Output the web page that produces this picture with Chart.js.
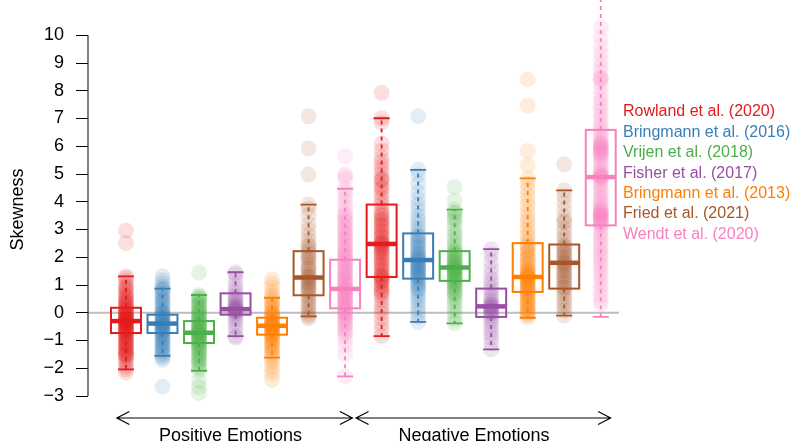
<!DOCTYPE html>
<html>
<head>
<meta charset="utf-8">
<script src="https://cdn.jsdelivr.net/npm/chart.js@4/dist/chart.umd.min.js"></script>
<style>
  body { margin: 0; background: #fff; }
  canvas { display: block; }
</style>
</head>
<body>
<canvas id="skewChart" width="795" height="441"></canvas>
<script>
// studies and groups
const studies = ["Rowland et al. (2020)", "Bringmann et al. (2016)", "Vrijen et al. (2018)",
  "Fisher et al. (2017)", "Bringmann et al. (2013)", "Fried et al. (2021)", "Wendt et al. (2020)"];
const groups = ["Positive Emotions", "Negative Emotions"];
const yTicks = [-3, -2, -1, 0, 1, 2, 3, 4, 5, 6, 7, 8, 9, 10];

// skewness values, positive emotions
const rowlandPos = [2.96, 2.51, 1.31, 1.25, 1.15, 1.05, 0.95, 0.9, 0.85, 0.78, 0.7, 0.62, 0.6, 0.55, 0.48, 0.42, 0.4, 0.35, 0.3, 0.25, 0.2, 0.18, 0.14, 0.1, 0.08, 0.05, 0.0, -0.02, -0.04, -0.08, -0.1, -0.12, -0.16, -0.18, -0.2, -0.22, -0.24, -0.27, -0.28, -0.3, -0.3, -0.32, -0.33, -0.36, -0.38, -0.4, -0.42, -0.44, -0.48, -0.5, -0.52, -0.56, -0.58, -0.6, -0.62, -0.65, -0.68, -0.7, -0.73, -0.76, -0.8, -0.84, -0.88, -0.92, -0.95, -1.0, -1.02, -1.06, -1.1, -1.14, -1.18, -1.22, -1.26, -1.3, -1.34, -1.38, -1.42, -1.46, -1.5, -1.52, -1.55, -1.6, -1.68, -1.76, -1.85, -1.95, -2.04, -2.15];
const bringmann16Pos = [1.32, 1.18, 1.05, 0.95, 0.87, 0.85, 0.8, 0.72, 0.65, 0.6, 0.5, 0.45, 0.4, 0.35, 0.3, 0.22, 0.15, 0.08, 0.02, 0.0, -0.04, -0.08, -0.1, -0.15, -0.18, -0.2, -0.25, -0.28, -0.3, -0.35, -0.38, -0.39, -0.43, -0.45, -0.48, -0.53, -0.55, -0.58, -0.63, -0.65, -0.68, -0.73, -0.75, -0.8, -0.85, -0.88, -0.96, -1.0, -1.05, -1.1, -1.14, -1.22, -1.25, -1.3, -1.35, -1.4, -1.48, -1.55, -1.62, -1.7, -2.66];
const vrijenPos = [1.45, 0.64, 0.58, 0.55, 0.5, 0.45, 0.42, 0.34, 0.3, 0.26, 0.18, 0.14, 0.1, 0.04, 0.0, -0.02, -0.08, -0.12, -0.14, -0.2, -0.24, -0.26, -0.3, -0.35, -0.38, -0.4, -0.45, -0.48, -0.5, -0.55, -0.58, -0.6, -0.65, -0.68, -0.7, -0.72, -0.74, -0.76, -0.8, -0.82, -0.85, -0.9, -0.92, -0.95, -1.0, -1.02, -1.05, -1.09, -1.12, -1.15, -1.2, -1.22, -1.3, -1.34, -1.38, -1.46, -1.5, -1.54, -1.62, -1.66, -1.72, -1.78, -1.82, -1.92, -2.0, -2.09, -2.46, -2.68, -2.89];
const fisherPos = [1.46, 1.38, 1.2, 1.0, 0.85, 0.72, 0.62, 0.52, 0.5, 0.42, 0.35, 0.28, 0.25, 0.2, 0.18, 0.15, 0.12, 0.1, 0.08, 0.05, 0.02, -0.05, -0.12, -0.22, -0.35, -0.5, -0.65, -0.84, -0.9];
const bringmann13Pos = [1.21, 1.05, 0.9, 0.75, 0.6, 0.54, 0.45, 0.36, 0.3, 0.28, 0.2, 0.12, 0.05, 0.0, -0.02, -0.08, -0.1, -0.14, -0.19, -0.2, -0.24, -0.29, -0.3, -0.34, -0.39, -0.4, -0.44, -0.45, -0.47, -0.5, -0.52, -0.55, -0.58, -0.6, -0.65, -0.68, -0.7, -0.75, -0.78, -0.79, -0.85, -0.9, -0.92, -1.0, -1.04, -1.08, -1.16, -1.2, -1.25, -1.34, -1.4, -1.44, -1.54, -1.62, -1.75, -1.9, -2.05, -2.2, -2.42];
const friedPos = [7.08, 5.92, 4.98, 3.9, 3.75, 3.5, 3.2, 3.0, 2.8, 2.6, 2.45, 2.4, 2.3, 2.2, 2.1, 2.0, 2.0, 1.9, 1.8, 1.7, 1.6, 1.6, 1.5, 1.4, 1.32, 1.3, 1.27, 1.2, 1.12, 1.1, 1.04, 0.96, 0.9, 0.88, 0.8, 0.72, 0.63, 0.55, 0.45, 0.35, 0.25, 0.15, 0.05, -0.05, -0.13, -0.2];
const wendtPos = [5.64, 5.0, 4.92, 4.8, 4.47, 4.35, 4.2, 4.05, 3.9, 3.75, 3.6, 3.5, 3.48, 3.36, 3.3, 3.24, 3.12, 3.1, 3.0, 2.9, 2.85, 2.8, 2.7, 2.65, 2.6, 2.5, 2.45, 2.4, 2.3, 2.25, 2.2, 2.12, 2.08, 2.04, 1.96, 1.92, 1.88, 1.8, 1.76, 1.72, 1.64, 1.6, 1.56, 1.48, 1.44, 1.4, 1.33, 1.3, 1.26, 1.19, 1.16, 1.12, 1.05, 1.02, 0.98, 0.92, 0.9, 0.86, 0.8, 0.78, 0.74, 0.68, 0.66, 0.62, 0.56, 0.54, 0.5, 0.44, 0.42, 0.38, 0.32, 0.3, 0.26, 0.2, 0.18, 0.14, 0.08, 0.06, 0.02, -0.05, -0.08, -0.12, -0.2, -0.24, -0.28, -0.38, -0.44, -0.48, -0.6, -0.66, -0.72, -0.85, -1.0, -1.2, -1.5, -2.29];

// skewness values, negative emotions
const rowlandNeg = [7.93, 7.01, 6.85, 6.1, 5.85, 5.6, 5.45, 5.3, 5.15, 5.0, 4.85, 4.8, 4.75, 4.6, 4.5, 4.45, 4.3, 4.15, 4.0, 3.88, 3.75, 3.62, 3.55, 3.5, 3.4, 3.35, 3.3, 3.2, 3.15, 3.1, 3.0, 2.95, 2.9, 2.8, 2.75, 2.7, 2.6, 2.55, 2.52, 2.48, 2.45, 2.42, 2.35, 2.3, 2.28, 2.2, 2.15, 2.1, 2.0, 1.95, 1.9, 1.8, 1.75, 1.7, 1.6, 1.55, 1.5, 1.4, 1.35, 1.32, 1.28, 1.25, 1.18, 1.15, 1.1, 1.0, 0.95, 0.9, 0.8, 0.75, 0.7, 0.6, 0.45, 0.3, 0.15, 0.0, -0.2, -0.4, -0.6, -0.84];
const bringmann16Neg = [7.08, 5.15, 4.95, 4.65, 4.35, 4.1, 3.9, 3.7, 3.5, 3.35, 3.2, 3.05, 2.92, 2.8, 2.75, 2.7, 2.6, 2.55, 2.5, 2.4, 2.35, 2.3, 2.2, 2.15, 2.12, 2.04, 2.0, 1.96, 1.92, 1.9, 1.84, 1.8, 1.76, 1.72, 1.68, 1.64, 1.6, 1.56, 1.52, 1.48, 1.44, 1.4, 1.36, 1.32, 1.28, 1.24, 1.2, 1.1, 1.05, 1.0, 0.9, 0.85, 0.8, 0.68, 0.56, 0.44, 0.3, 0.15, 0.0, -0.15, -0.33];
const vrijenNeg = [4.53, 4.05, 3.72, 3.6, 3.6, 3.45, 3.4, 3.3, 3.15, 3.0, 2.88, 2.76, 2.64, 2.52, 2.42, 2.32, 2.22, 2.2, 2.14, 2.1, 2.06, 2.0, 1.98, 1.9, 1.86, 1.82, 1.78, 1.75, 1.7, 1.68, 1.65, 1.63, 1.6, 1.58, 1.55, 1.52, 1.5, 1.46, 1.43, 1.4, 1.36, 1.33, 1.3, 1.26, 1.22, 1.19, 1.15, 1.12, 1.08, 1.04, 0.96, 0.9, 0.88, 0.8, 0.72, 0.7, 0.62, 0.52, 0.42, 0.3, 0.18, 0.05, -0.1, -0.25, -0.38];
const fisherNeg = [2.29, 2.1, 1.85, 1.6, 1.4, 1.2, 1.05, 0.9, 0.78, 0.66, 0.55, 0.45, 0.36, 0.3, 0.28, 0.23, 0.2, 0.18, 0.12, 0.1, 0.05, 0.0, -0.02, -0.1, -0.2, -0.32, -0.45, -0.6, -0.75, -0.9, -1.1, -1.32];
const bringmann13Neg = [8.41, 7.46, 5.83, 5.32, 4.84, 4.65, 4.45, 4.25, 4.05, 3.85, 3.65, 3.45, 3.3, 3.15, 3.0, 2.85, 2.7, 2.58, 2.46, 2.4, 2.35, 2.24, 2.2, 2.14, 2.04, 2.0, 1.94, 1.84, 1.8, 1.74, 1.64, 1.6, 1.55, 1.5, 1.46, 1.42, 1.38, 1.34, 1.32, 1.3, 1.29, 1.27, 1.24, 1.2, 1.16, 1.12, 1.08, 1.04, 1.0, 0.96, 0.92, 0.88, 0.84, 0.8, 0.76, 0.72, 0.68, 0.62, 0.58, 0.52, 0.48, 0.4, 0.38, 0.3, 0.28, 0.2, 0.18, 0.1, 0.08, 0.0, -0.02, -0.1, -0.18];
const friedNeg = [5.35, 4.41, 4.2, 3.95, 3.7, 3.45, 3.3, 3.25, 3.05, 2.9, 2.75, 2.6, 2.46, 2.4, 2.35, 2.25, 2.2, 2.15, 2.05, 2.0, 1.95, 1.85, 1.82, 1.8, 1.72, 1.68, 1.62, 1.52, 1.5, 1.42, 1.32, 1.3, 1.22, 1.12, 1.1, 1.02, 0.92, 0.9, 0.82, 0.7, 0.58, 0.45, 0.32, 0.2, 0.08, -0.1];
const wendtNeg = [10.28, 9.9, 9.6, 9.35, 9.1, 8.9, 8.7, 8.5, 8.45, 8.42, 8.3, 8.1, 7.9, 7.72, 7.55, 7.4, 7.25, 7.1, 6.95, 6.8, 6.68, 6.56, 6.45, 6.35, 6.25, 6.15, 6.12, 6.08, 6.05, 6.0, 5.98, 5.92, 5.9, 5.85, 5.82, 5.78, 5.75, 5.7, 5.65, 5.6, 5.5, 5.4, 5.3, 5.2, 5.1, 5.05, 5.0, 4.95, 4.92, 4.9, 4.89, 4.85, 4.82, 4.72, 4.62, 4.52, 4.42, 4.32, 4.22, 4.12, 4.02, 3.94, 3.86, 3.78, 3.7, 3.7, 3.64, 3.6, 3.58, 3.55, 3.52, 3.5, 3.46, 3.45, 3.4, 3.38, 3.34, 3.3, 3.28, 3.22, 3.2, 3.12, 3.02, 2.9, 2.78, 2.66, 2.54, 2.42, 2.3, 2.18, 2.06, 1.94, 1.82, 1.7, 1.56, 1.42, 1.28, 1.12, 0.96, 0.8, 0.62, 0.45, 0.3];

// box statistics (one entry per study)
const posQ1 = [-0.73, -0.73, -1.09, -0.07, -0.79, 0.63, 0.16];
const posMedian = [-0.30, -0.39, -0.72, 0.13, -0.47, 1.27, 0.86];
const posQ3 = [0.18, -0.07, -0.30, 0.70, -0.18, 2.22, 1.91];
const posLow = [-2.04, -1.55, -2.09, -0.84, -1.62, -0.13, -2.29];
const posHigh = [1.31, 0.87, 0.64, 1.46, 0.54, 3.90, 4.47];

const negQ1 = [1.29, 1.23, 1.15, -0.15, 0.75, 0.87, 3.15];
const negMedian = [2.48, 1.90, 1.63, 0.23, 1.29, 1.80, 4.89];
const negQ3 = [3.90, 2.86, 2.22, 0.87, 2.51, 2.46, 6.59];
const negLow = [-0.84, -0.33, -0.38, -1.32, -0.18, -0.10, -0.15];
const negHigh = [7.01, 5.15, 3.72, 2.29, 4.84, 4.41, 11.4];

const colors = ["#E41A1C", "#377EB8", "#4DAF4A", "#984EA3", "#FF7F00", "#A65628", "#F781BF"];
const chartFont = '"Liberation Sans", Arial, Helvetica, sans-serif';

const posPoints = [rowlandPos, bringmann16Pos, vrijenPos, fisherPos, bringmann13Pos, friedPos, wendtPos];
const negPoints = [rowlandNeg, bringmann16Neg, vrijenNeg, fisherNeg, bringmann13Neg, friedNeg, wendtNeg];

function withAlpha(hex, a) {
  const n = parseInt(hex.slice(1), 16);
  return `rgba(${(n >> 16) & 255}, ${(n >> 8) & 255}, ${n & 255}, ${a})`;
}

const boxes = [];
const datasets = [];
[posPoints, negPoints].forEach(function (set, g) {
  const stats = g === 0
    ? [posQ1, posMedian, posQ3, posLow, posHigh]
    : [negQ1, negMedian, negQ3, negLow, negHigh];
  set.forEach(function (vals, i) {
    const x = g * studies.length + i + 1;
    datasets.push({
      label: studies[i],
      data: vals.map((v) => ({ x: x, y: v })),
      pointRadius: 8,
      pointHoverRadius: 8,
      pointBorderWidth: 0,
      pointBackgroundColor: withAlpha(colors[i], 0.14),
      clip: false,
    });
    boxes.push({
      x: x, color: colors[i],
      q1: stats[0][i], med: stats[1][i], q3: stats[2][i], lo: stats[3][i], hi: stats[4][i],
    });
  });
});

const backdrop = {
  id: "backdrop",
  beforeDatasetsDraw(chart) {
    const { ctx, chartArea, scales } = chart;
    ctx.save();
    // zero reference line
    const y0 = scales.y.getPixelForValue(0);
    ctx.strokeStyle = "#BEBEBE";
    ctx.lineWidth = 2;
    ctx.beginPath();
    ctx.moveTo(chartArea.left, y0);
    ctx.lineTo(chartArea.right, y0);
    ctx.stroke();
    // y axis line between first and last tick
    ctx.strokeStyle = "#000";
    ctx.lineWidth = 1;
    ctx.beginPath();
    ctx.moveTo(chartArea.left, scales.y.getPixelForValue(yTicks[yTicks.length - 1]));
    ctx.lineTo(chartArea.left, scales.y.getPixelForValue(yTicks[0]));
    ctx.stroke();
    ctx.restore();
  },
};

const boxPlots = {
  id: "boxPlots",
  afterDatasetsDraw(chart) {
    const { ctx, scales } = chart;
    const xs = scales.x, ys = scales.y;
    ctx.save();
    boxes.forEach(function (b) {
      const cx = xs.getPixelForValue(b.x);
      const half = (xs.getPixelForValue(b.x + 0.41) - cx);
      const cap = (xs.getPixelForValue(b.x + 0.22) - cx);
      const yq1 = ys.getPixelForValue(b.q1), yq3 = ys.getPixelForValue(b.q3);
      const ylo = ys.getPixelForValue(b.lo), yhi = ys.getPixelForValue(b.hi);
      const ymed = ys.getPixelForValue(b.med);
      ctx.strokeStyle = b.color;
      // whiskers
      ctx.lineWidth = 1.8;
      ctx.setLineDash([4, 4]);
      ctx.beginPath();
      ctx.moveTo(cx, yq3); ctx.lineTo(cx, yhi);
      ctx.moveTo(cx, yq1); ctx.lineTo(cx, ylo);
      ctx.stroke();
      ctx.setLineDash([]);
      ctx.beginPath();
      ctx.moveTo(cx - cap, yhi); ctx.lineTo(cx + cap, yhi);
      ctx.moveTo(cx - cap, ylo); ctx.lineTo(cx + cap, ylo);
      ctx.stroke();
      // box
      ctx.lineWidth = 2;
      ctx.strokeRect(cx - half, yq3, half * 2, yq1 - yq3);
      // median
      ctx.lineWidth = 4.5;
      ctx.beginPath();
      ctx.moveTo(cx - half, ymed); ctx.lineTo(cx + half, ymed);
      ctx.stroke();
    });
    ctx.restore();
  },
};

const annotations = {
  id: "annotations",
  afterDraw(chart) {
    const { ctx, chartArea, scales } = chart;
    ctx.save();
    // legend
    ctx.font = "16px " + chartFont;
    ctx.textAlign = "left";
    ctx.textBaseline = "middle";
    studies.forEach(function (s, i) {
      ctx.fillStyle = colors[i];
      ctx.fillText(s, chartArea.right + 4, 112 + i * 20.4);
    });
    // group arrows
    const spans = [[0.75, 7.2], [7.3, 14.27]];
    const labelAt = [3.86, 10.53];
    const ya = 418;
    ctx.strokeStyle = "#000";
    ctx.lineWidth = 1.2;
    spans.forEach(function (sp, g) {
      const x1 = scales.x.getPixelForValue(sp[0]);
      const x2 = scales.x.getPixelForValue(sp[1]);
      ctx.beginPath();
      ctx.moveTo(x1, ya); ctx.lineTo(x2, ya);
      ctx.moveTo(x1 + 12.5, ya - 6.5); ctx.lineTo(x1, ya); ctx.lineTo(x1 + 12.5, ya + 6.5);
      ctx.moveTo(x2 - 12.5, ya - 6.5); ctx.lineTo(x2, ya); ctx.lineTo(x2 - 12.5, ya + 6.5);
      ctx.stroke();
      ctx.fillStyle = "#000";
      ctx.font = "18px " + chartFont;
      ctx.textAlign = "center";
      ctx.textBaseline = "alphabetic";
      ctx.fillText(groups[g], scales.x.getPixelForValue(labelAt[g]), 441);
    });
    ctx.restore();
  },
};

new Chart(document.getElementById("skewChart").getContext("2d"), {
  type: "scatter",
  data: { datasets: datasets },
  options: {
    responsive: false,
    animation: false,
    devicePixelRatio: 1,
    layout: { padding: { top: 1, right: 176, bottom: 45, left: 0 } },
    plugins: { legend: { display: false }, tooltip: { enabled: false } },
    scales: {
      x: { type: "linear", min: -0.04, max: 14.5, display: false },
      y: {
        type: "linear",
        min: -3,
        max: 10.45,
        afterBuildTicks: (scale) => { scale.ticks = yTicks.map((v) => ({ value: v })); },
        afterFit: (scale) => { scale.width = 88; },
        border: { display: false },
        grid: { drawOnChartArea: false, drawTicks: true, tickLength: 12, color: "#000", lineWidth: 1 },
        ticks: {
          color: "#000",
          padding: 12,
          font: { family: chartFont, size: 18 },
          callback: (v) => String(v).replace("-", "\u2212"),
        },
        title: {
          display: true,
          text: "Skewness",
          color: "#000",
          font: { family: chartFont, size: 18 },
          padding: { top: 7, bottom: 0 },
        },
      },
    },
  },
  plugins: [backdrop, boxPlots, annotations],
});
</script>
</body>
</html>
